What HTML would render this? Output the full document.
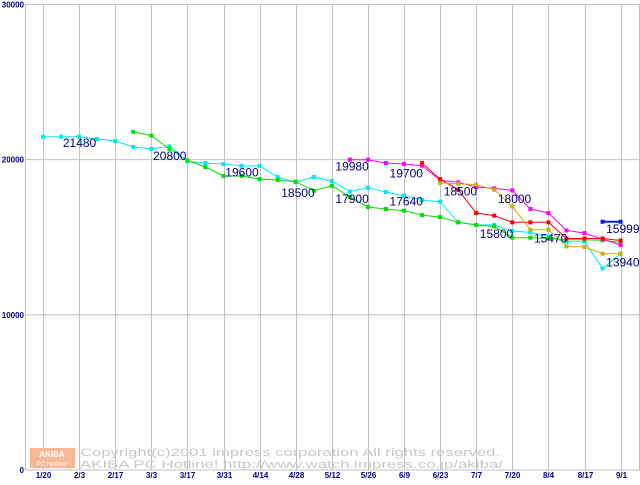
<!DOCTYPE html>
<html><head><meta charset="utf-8"><style>
body{margin:0;background:#fff;width:640px;height:480px;overflow:hidden}
svg text{font-family:"Liberation Sans",sans-serif}
</style></head><body>
<svg id="c" width="640" height="480" xmlns="http://www.w3.org/2000/svg">
<g id="grid"></g>
<g id="wm">
<rect x="30" y="448" width="45" height="20" fill="#f8b898"/>
<text x="52" y="457" font-size="8" fill="#fff" text-anchor="middle" font-weight="bold">AKIBA</text>
<text x="52" y="466" font-size="6" fill="#fff" text-anchor="middle">PC Hotline!</text>
<text x="80" y="456" font-size="11" fill="#c8c8c8" font-family="Liberation Mono" textLength="420" lengthAdjust="spacingAndGlyphs">Copyright(c)2001 impress corporation All rights reserved.</text>
<text x="80" y="468" font-size="11" fill="#c8c8c8" font-family="Liberation Mono" textLength="423" lengthAdjust="spacingAndGlyphs">AKIBA PC Hotline!  http://www.watch.impress.co.jp/akiba/</text>
</g>
<g id="series"></g>
<g id="labels"></g>
</svg>
<script>
const xTickLabels=["1/20","2/3","2/17","3/3","3/17","3/31","4/14","4/28","5/12","5/26","6/9","6/23","7/7","7/20","8/4","8/17","9/1"];
const yTicks=[0,10000,20000,30000];
const cyanStart=0;
const cyanValues=[21480,21480,21480,21330,21200,20820,20690,20860,19890,19780,19720,19600,19600,18880,18540,18880,18620,17940,18190,17910,17680,17400,17290,15960,15790,15790,15400,15310,15050,14710,14710,12990,13940];
const greenStart=5;
const greenValues=[21790,21550,20690,19950,19520,18950,18950,18750,18690,18580,18000,18320,17600,16950,16820,16710,16430,16300,15960,15790,15700,14970,14970,14930,14840,14840,14800,14670];
const magentaStart=17;
const magentaValues=[20000,20000,19780,19720,19610,18670,18540,18240,18150,18020,16820,16560,15440,15270,14880,14500];
const redStart=21;
const redValues=[19780,18750,18060,16560,16390,15960,15960,15960,14920,14920,14920,14790];
const oliveStart=22;
const oliveValues=[18500,18450,18390,18060,16990,15480,15480,14410,14370,13940,13940];
const blueStart=31;
const blueValues=[16000,16000];
const labelTexts=["21480","20800","19600","18500","19980","19700","17900","17640","18500","18000","15800","15470","15999","13940"];
const labelWeeks=[1.1,6.1,10.1,13.2,16.2,19.2,16.2,19.2,22.2,25.2,24.2,27.2,31.2,31.2];
const labelValues=[20800,19970,18900,17600,19300,18850,17200,17060,17700,17200,14960,14650,15280,13120];
const NS="http://www.w3.org/2000/svg";
const X=i=>43+18.05*i, Y=v=>470-v*0.015517;
function mk(t,a,p){const e=document.createElementNS(NS,t);for(const k in a)e.setAttribute(k,a[k]);p.appendChild(e);return e;}
const g=document.getElementById('grid');
yTicks.forEach(v=>{
 const l=mk('line',{x1:25,x2:640,y1:Y(v),y2:Y(v),stroke:'#c0c0c0'},g);
 
 
 const t=mk('text',{x:24,y:Y(v)+3,'font-size':8,'font-weight':'bold',fill:'#000080','text-anchor':'end','font-family':'Liberation Mono'},g);
 t.textContent=v;
 
 
});
mk('line',{x1:25.5,x2:25.5,y1:4,y2:470,stroke:'#c0c0c0'},g);
mk('line',{x1:639.5,x2:639.5,y1:4,y2:470,stroke:'#c0c0c0'},g);
xTickLabels.forEach((s,k)=>{
 const x=Math.round(X(k*2))+0.5;
 const l=mk('line',{x1:x,x2:x,y1:4,y2:470,stroke:'#c0c0c0'},g);
 
 
 const t=mk('text',{x:x,y:478,'font-size':8,'font-weight':'bold',fill:'#000080','text-anchor':'middle','font-family':'Liberation Mono'},g);
 t.textContent=s;
 
 
});
const sg=document.getElementById('series');
[[cyanStart,cyanValues,'#00e8f0','cyan'],[greenStart,greenValues,'#00e000','green'],[magentaStart,magentaValues,'#ff00ff','magenta'],[redStart,redValues,'#ff0000','red'],[oliveStart,oliveValues,'#c8b000','olive'],[blueStart,blueValues,'#0020e0','blue']].forEach(([s,vals,c,n])=>{
 const pts=vals.map((v,i)=>X(s+i).toFixed(1)+','+Y(v).toFixed(1)).join(' ');
 const pl=mk('polyline',{points:pts,fill:'none',stroke:c,'stroke-width':n==='blue'?2:1},sg);
 
 
 vals.forEach((v,i)=>{
  const r=mk('rect',{x:X(s+i)-2,y:Y(v)-2,width:4,height:4,fill:c},sg);
  
  
 });
});
const lg=document.getElementById('labels');
labelTexts.forEach((s,i)=>{
 const t=mk('text',{x:X(labelWeeks[i]),y:Y(labelValues[i]),'font-size':12,fill:'#000080'},lg);
 t.textContent=s;
 
 
});
</script>
</body></html>
